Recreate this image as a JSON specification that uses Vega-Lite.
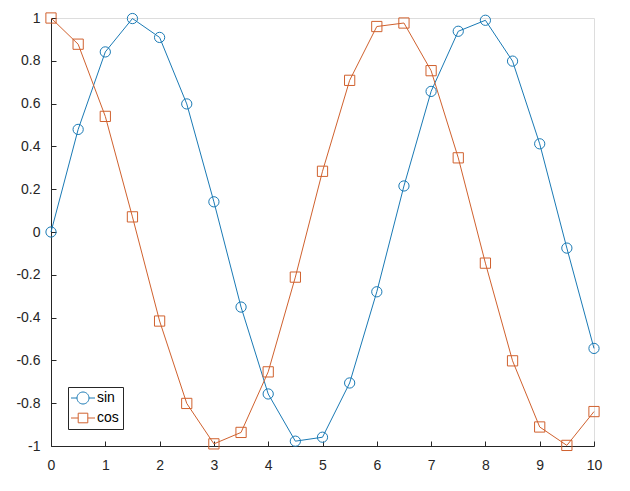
{
  "$schema": "https://vega.github.io/schema/vega-lite/v6.json",
  "width": 543,
  "height": 428,
  "autosize": {"type": "none"},
  "padding": {"left": 51, "top": 18, "right": 36, "bottom": 45},
  "background": "white",
  "data": {"values": [
    {"x": 0, "y": 0, "s": "sin"}, {"x": 0.5, "y": 0.4794, "s": "sin"}, {"x": 1, "y": 0.8415, "s": "sin"},
    {"x": 1.5, "y": 0.9975, "s": "sin"}, {"x": 2, "y": 0.9093, "s": "sin"}, {"x": 2.5, "y": 0.5985, "s": "sin"},
    {"x": 3, "y": 0.1411, "s": "sin"}, {"x": 3.5, "y": -0.3508, "s": "sin"}, {"x": 4, "y": -0.7568, "s": "sin"},
    {"x": 4.5, "y": -0.9775, "s": "sin"}, {"x": 5, "y": -0.9589, "s": "sin"}, {"x": 5.5, "y": -0.7055, "s": "sin"},
    {"x": 6, "y": -0.2794, "s": "sin"}, {"x": 6.5, "y": 0.2151, "s": "sin"}, {"x": 7, "y": 0.657, "s": "sin"},
    {"x": 7.5, "y": 0.938, "s": "sin"}, {"x": 8, "y": 0.9894, "s": "sin"}, {"x": 8.5, "y": 0.7985, "s": "sin"},
    {"x": 9, "y": 0.4121, "s": "sin"}, {"x": 9.5, "y": -0.0752, "s": "sin"}, {"x": 10, "y": -0.544, "s": "sin"},
    {"x": 0, "y": 1, "s": "cos"}, {"x": 0.5, "y": 0.8776, "s": "cos"}, {"x": 1, "y": 0.5403, "s": "cos"},
    {"x": 1.5, "y": 0.0707, "s": "cos"}, {"x": 2, "y": -0.4161, "s": "cos"}, {"x": 2.5, "y": -0.8011, "s": "cos"},
    {"x": 3, "y": -0.99, "s": "cos"}, {"x": 3.5, "y": -0.9365, "s": "cos"}, {"x": 4, "y": -0.6536, "s": "cos"},
    {"x": 4.5, "y": -0.2108, "s": "cos"}, {"x": 5, "y": 0.2837, "s": "cos"}, {"x": 5.5, "y": 0.7087, "s": "cos"},
    {"x": 6, "y": 0.9602, "s": "cos"}, {"x": 6.5, "y": 0.9766, "s": "cos"}, {"x": 7, "y": 0.7539, "s": "cos"},
    {"x": 7.5, "y": 0.3466, "s": "cos"}, {"x": 8, "y": -0.1455, "s": "cos"}, {"x": 8.5, "y": -0.602, "s": "cos"},
    {"x": 9, "y": -0.9111, "s": "cos"}, {"x": 9.5, "y": -0.9972, "s": "cos"}, {"x": 10, "y": -0.8391, "s": "cos"}
  ]},
  "config": {
    "legend": {
      "title": null, "orient": "none", "legendX": 17, "legendY": 369,
      "strokeColor": "#262626", "fillColor": "white", "padding": 4,
      "symbolSize": 144, "symbolOffset": 4, "labelOffset": 7, "rowPadding": 5,
      "labelFont": "Liberation Sans", "labelFontSize": 14, "labelColor": "black",
      "symbolStrokeWidth": 1, "symbolOpacity": 1
    }
  },
  "encoding": {
    "x": {"field": "x", "type": "quantitative",
      "scale": {"domain": [0, 10], "nice": false, "zero": false},
      "axis": {"values": [0,1,2,3,4,5,6,7,8,9,10], "title": null, "grid": false, "labelFlush": false,
        "tickSize": -5, "labelPadding": 17, "domainColor": "#262626", "tickColor": "#262626",
        "labelColor": "#262626", "labelFont": "Liberation Sans", "labelFontSize": 14}},
    "y": {"field": "y", "type": "quantitative",
      "scale": {"domain": [-1, 1], "nice": false, "zero": false},
      "axis": {"values": [-1,-0.8,-0.6,-0.4,-0.2,0,0.2,0.4,0.6,0.8,1], "title": null, "grid": false, "labelFlush": false,
        "tickSize": -5, "labelPadding": 16,
        "labelExpr": "replace(format(datum.value, '.1~f'), '\u2212', '-')",
        "domainColor": "#262626", "tickColor": "#262626",
        "labelColor": "#262626", "labelFont": "Liberation Sans", "labelFontSize": 14}}
  },
  "layer": [
    {"mark": {"type": "line", "strokeWidth": 1},
      "encoding": {
        "color": {"field": "s", "type": "nominal",
          "scale": {"domain": ["sin", "cos"], "range": ["#1A7AB5", "#D0612E"]},
          "legend": null}
      }},
    {"mark": {"type": "point", "filled": false, "strokeWidth": 1, "size": 105, "opacity": 1},
      "encoding": {
        "color": {"field": "s", "type": "nominal",
          "scale": {"domain": ["sin", "cos"], "range": ["#1A7AB5", "#D0612E"]},
          "legend": null},
        "shape": {"field": "s", "type": "nominal",
          "scale": {"domain": ["sin", "cos"], "range": ["circle", "square"]},
          "legend": null}
      }},
    {"mark": {"type": "point", "filled": false, "strokeWidth": 1, "size": 144, "opacity": 0},
      "encoding": {
        "color": {"field": "s", "type": "nominal",
          "scale": {"domain": ["sin", "cos"], "range": ["#1A7AB5", "#D0612E"]},
          "legend": {}},
        "shape": {"field": "s", "type": "nominal",
          "scale": {"domain": ["sin", "cos"], "range": [
            "M-2,0H-1M1,0H2M-1,0A1,1 0 1,1 1,0A1,1 0 1,1 -1,0",
            "M-2,0H-0.8M0.8,0H2M-0.8,-0.8H0.8V0.8H-0.8Z"]},
          "legend": {}}
      }}
  ],
  "resolve": {
    "scale": {"shape": "independent", "color": "independent"},
    "legend": {"shape": "independent", "color": "independent"}
  }
}
